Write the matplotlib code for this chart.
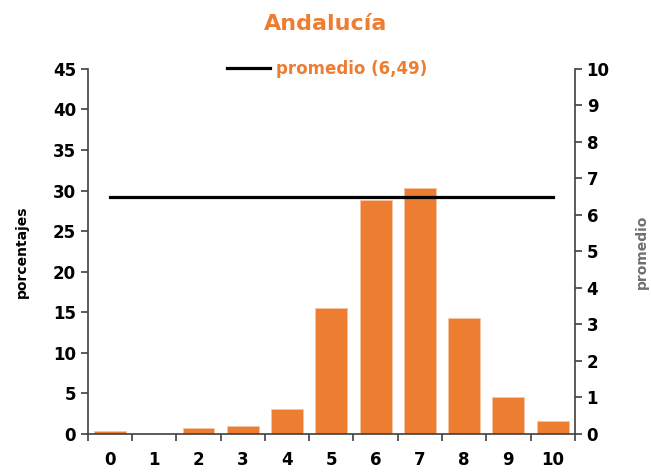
import matplotlib.pyplot as plt
import numpy as np

# puntuaciones y porcentajes
scores = np.arange(0, 11)
percents = [0.4, 0.0, 0.8, 1.0, 3.1, 15.5, 28.9, 30.3, 14.3, 4.6, 1.6]
mean_value = 6.49

orange = '#ED7D31'

fig = plt.figure(figsize=(6.51, 4.72), dpi=100)
ax = fig.add_axes([0.135, 0.0805, 0.748, 0.7735])

ax.bar(scores, percents, width=0.72, color=orange, edgecolor='#f6c5a5', linewidth=0.6)
ax.set_xlim(-0.5, 10.5)
ax.set_ylim(0, 45)
ax.set_yticks(np.arange(0, 46, 5))
ax.set_xticks(scores)
ax.set_xticks(np.arange(-0.5, 11, 1), minor=True)
ax.tick_params(axis='x', which='major', length=0, pad=12)
ax.tick_params(axis='x', which='minor', length=5, width=1.2, color='#404040')
ax.tick_params(axis='y', length=5, width=1.2, color='#404040')
for lab in ax.get_xticklabels() + ax.get_yticklabels():
    lab.set_fontweight('bold')
    lab.set_fontsize(12)
ax.set_ylabel('porcentajes', fontsize=10, fontweight='bold', labelpad=17)

ax.spines['top'].set_visible(False)
ax.spines['right'].set_visible(False)
for s in ['left', 'bottom']:
    ax.spines[s].set_color('#404040')
    ax.spines[s].set_linewidth(1.2)

# eje secundario con el promedio
ax2 = ax.twinx()
ax2.plot([scores[0], scores[-1]], [mean_value, mean_value], color='black', linewidth=2.3,
         label='promedio (6,49)')
ax2.set_ylim(0, 10)
ax2.set_yticks(np.arange(0, 11, 1))
ax2.tick_params(axis='y', length=5, width=1.2, color='#404040')
for lab in ax2.get_yticklabels():
    lab.set_fontweight('bold')
    lab.set_fontsize(12)
ax2.set_ylabel('promedio', fontsize=10, fontweight='bold', color='#707070', labelpad=18)
ax2.spines['top'].set_visible(False)
ax2.spines['left'].set_visible(False)
ax2.spines['bottom'].set_visible(False)
ax2.spines['right'].set_color('#404040')
ax2.spines['right'].set_linewidth(1.2)

leg = ax2.legend(loc='center left', bbox_to_anchor=(0.255, 1.0), frameon=False,
                 handlelength=2.6, handletextpad=0.35,
                 prop={'weight': 'bold', 'size': 12})
for t in leg.get_texts():
    t.set_color(orange)

fig.text(0.5, 0.95, 'Andalucía', ha='center', va='center', color=orange,
         fontsize=16, fontweight='bold')

fig.savefig('out.png', dpi=100)
